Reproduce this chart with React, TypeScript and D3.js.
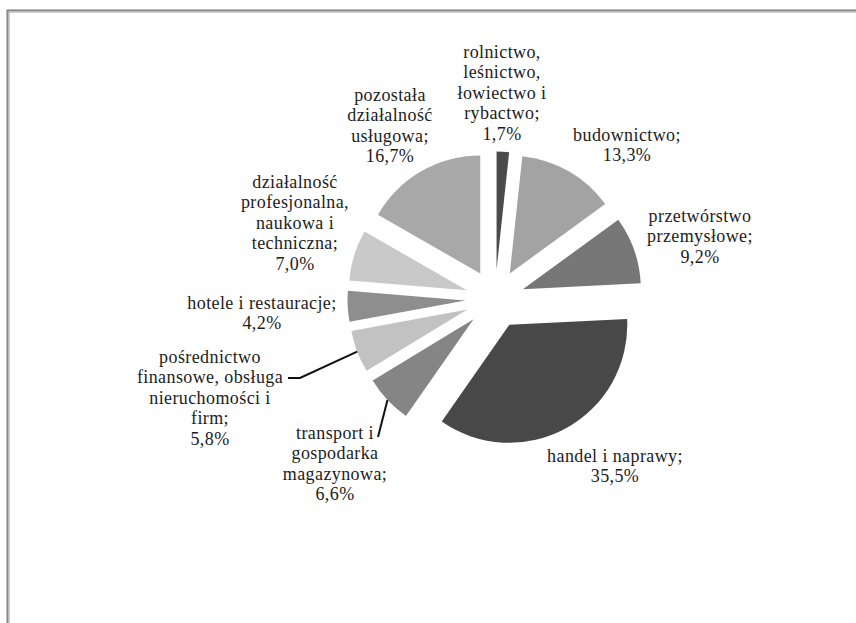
import React from "react";
import * as d3 from "d3";

// ---- data ----
const categories: string[] = [
  "rolnictwo,\nleśnictwo,\nłowiectwo i\nrybactwo;",
  "budownictwo;",
  "przetwórstwo\nprzemysłowe;",
  "handel i naprawy;",
  "transport i\ngospodarka\nmagazynowa;",
  "pośrednictwo\nfinansowe, obsługa\nnieruchomości i\nfirm;",
  "hotele i restauracje;",
  "działalność\nprofesjonalna,\nnaukowa i\ntechniczna;",
  "pozostała\ndziałalność\nusługowa;",
];
const values: number[] = [1.7, 13.3, 9.2, 35.5, 6.6, 5.8, 4.2, 7.0, 16.7];
const valueLabels: string[] = ["1,7%", "13,3%", "9,2%", "35,5%", "6,6%", "5,8%", "4,2%", "7,0%", "16,7%"];
const colors: string[] = ["#4b4b4b", "#a3a3a3", "#777777", "#484848", "#858585", "#c2c2c2", "#8e8e8e", "#c9c9c9", "#a8a8a8"];

// ---- layout ----
const W = 856;
const H = 623;
const CX = 495;
const CY = 299;
const R = 118;
const EXPLODE = 0.25 * R;
const FONT = 18;
const LINE = 20.6;
// label anchor (center x, first-line center y)
const labelAnchors: [number, number][] = [
  [502, 52],
  [627, 135],
  [700, 216],
  [615, 456],
  [335, 433],
  [210, 357],
  [262, 303],
  [295, 182],
  [390, 95],
];
// leader start points (from label) for slices with leaders
const leaders: { [k: number]: [number, number][] } = {
  4: [[378, 437]],
  5: [[288, 378], [300, 378]],
};

export default function App() {
  const pie = d3.pie<number>().sort(null).value((d) => d).startAngle(0).endAngle(2 * Math.PI);
  const arcs = pie(values);
  const arcGen = d3.arc<d3.PieArcDatum<number>>().innerRadius(0).outerRadius(R);

  return (
    <svg
      width={W}
      height={H}
      style={{ position: "absolute", left: 0, top: 0, background: "#fff" }}
      fontFamily="'Liberation Serif', 'Times New Roman', serif"
    >
      <rect x={0} y={0} width={W} height={H} fill="#fff" />
      <rect x={7.5} y={10.5} width={W + 20} height={H + 20} fill="none" stroke="#8a8a8a" strokeWidth={2.2} />
      <rect x={9.5} y={12.5} width={W + 20} height={H + 20} fill="none" stroke="#d0d0d0" strokeWidth={1} />
      {arcs.map((a, i) => {
        const mid = (a.startAngle + a.endAngle) / 2;
        const ox = CX + EXPLODE * Math.sin(mid);
        const oy = CY - EXPLODE * Math.cos(mid);
        return (
          <path key={"s" + i} d={arcGen(a) || ""} transform={`translate(${ox},${oy})`} fill={colors[i]} />
        );
      })}
      {arcs.map((a, i) => {
        if (!leaders[i]) return null;
        const mid = (a.startAngle + a.endAngle) / 2;
        const ox = CX + (EXPLODE + R) * Math.sin(mid);
        const oy = CY - (EXPLODE + R) * Math.cos(mid);
        const pts = [...leaders[i], [ox, oy] as [number, number]];
        const line = d3.line()(pts) || "";
        return <path key={"l" + i} d={line} fill="none" stroke="#111" strokeWidth={2} />;
      })}
      {categories.map((c, i) => {
        const lines = [...c.split("\n"), valueLabels[i]];
        const [lx, ly] = labelAnchors[i];
        return (
          <text
            key={"t" + i}
            textAnchor="middle"
            fontSize={FONT}
            fill="#1c1c1c"
            letterSpacing={0.4}
          >
            {lines.map((ln, j) => (
              <tspan key={j} x={lx} y={ly + j * LINE + 5.5}>
                {ln}
              </tspan>
            ))}
          </text>
        );
      })}
    </svg>
  );
}
